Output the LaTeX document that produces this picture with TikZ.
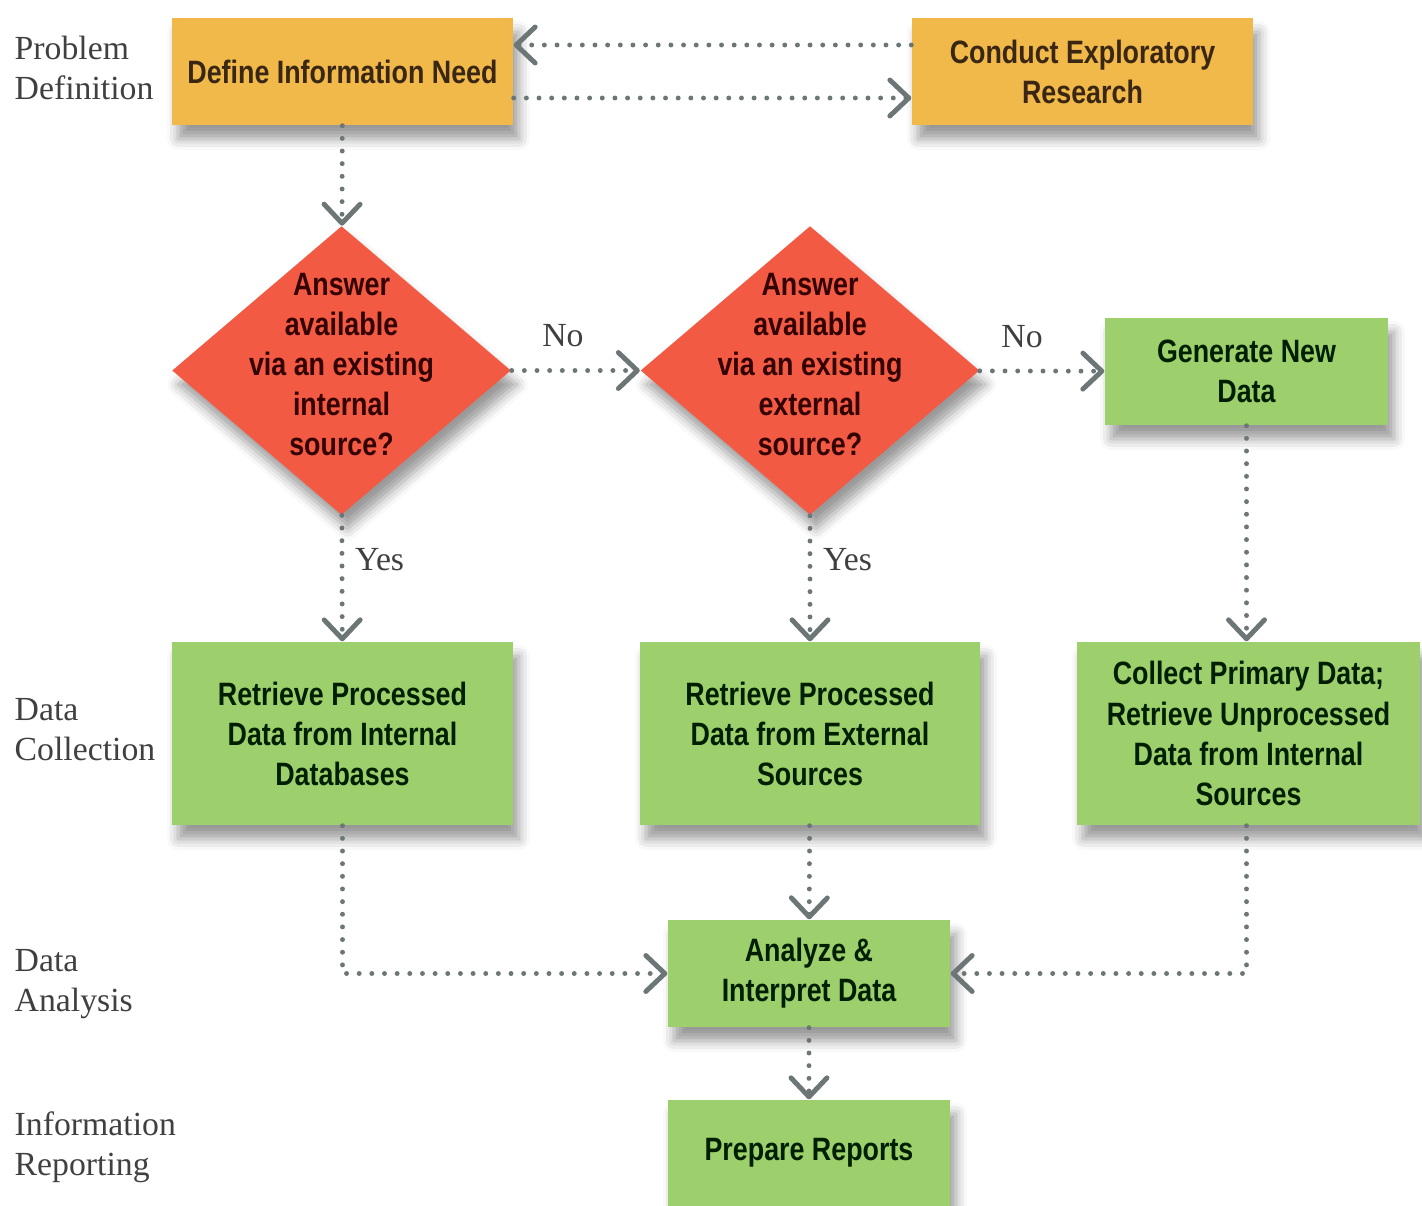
\documentclass[tikz,border=0pt]{standalone}
\usepackage{fontspec}
\setmainfont{Liberation Serif}
\newfontfamily\boxfont[FakeStretch=0.83]{Liberation Sans}
\usetikzlibrary{arrows.meta,shapes.geometric,shadows.blur}

\definecolor{stepamber}{RGB}{241,184,74}
\definecolor{stepred}{RGB}{243,90,68}
\definecolor{stepgreen}{RGB}{157,208,108}
\definecolor{flowgray}{RGB}{108,118,118}

\newcommand{\decisiontext}[1]{\raisebox{-2.6pt}{\smash{\makebox[0pt]{\begin{tabular}{@{}c@{}}#1\end{tabular}}}}}

\tikzset{
  stagelabel/.style={font=\fontsize{9.6}{11.4}\selectfont, text=black!75, align=left, anchor=west, inner sep=0pt},
  boxtext/.style={font=\boxfont\bfseries\fontsize{9.2}{11.4}\selectfont, align=center, inner sep=0pt,
    blur shadow={shadow xshift=0.6mm, shadow yshift=-1.4mm, shadow blur radius=1.1mm, shadow opacity=40}},
  ambertask/.style={boxtext, rectangle, fill=stepamber, text=brown!30!black},
  greentask/.style={boxtext, rectangle, fill=stepgreen, text=green!12!black},
  decision/.style={boxtext, diamond, fill=stepred, text=red!20!black, minimum width=3.39cm, minimum height=2.89cm},
  answer/.style={font=\fontsize{9.6}{11.4}\selectfont, text=black!75, inner sep=2pt},
  flow/.style={flowgray, line width=1.4pt, line cap=round, dash pattern=on 0pt off 3.6pt,
    -{Straight Barb[length=1.9mm, width=3.6mm, line width=1.4pt, round]}}
}

\begin{document}
\begin{tikzpicture}
\useasboundingbox (0,0) rectangle (14.22,-12.06);

% stages on the left
\foreach \y/\l in {0.68/Problem\\Definition, 7.30/Data\\Collection, 9.84/Data\\Analysis, 11.47/Information\\Reporting} {
  \node[stagelabel] at (0.14,-\y) {\l};
}

% problem definition
\node[ambertask, minimum width=3.41cm, minimum height=1.07cm] (define) at (3.425,-0.715) {Define Information Need};
\node[ambertask, minimum width=3.41cm, minimum height=1.07cm] (explore) at (10.825,-0.715) {Conduct Exploratory\\Research};

% decisions
\node[decision] (internal) at (3.415,-3.705) {\decisiontext{Answer\\available\\via an existing\\internal\\source?}};
\node[decision] (external) at (8.10,-3.705) {\decisiontext{Answer\\available\\via an existing\\external\\source?}};
\node[greentask, minimum width=2.83cm, minimum height=1.07cm] (newdata) at (12.465,-3.715) {Generate New\\Data};

% data collection
\node[greentask, minimum width=3.41cm, minimum height=1.83cm] (intdb) at (3.425,-7.335) {Retrieve Processed\\Data from Internal\\Databases};
\node[greentask, minimum width=3.40cm, minimum height=1.83cm] (extdb) at (8.10,-7.335) {Retrieve Processed\\Data from External\\Sources};
\node[greentask, minimum width=3.43cm, minimum height=1.83cm] (collect) at (12.485,-7.335) {Collect Primary Data;\\Retrieve Unprocessed\\Data from Internal\\Sources};

% analysis and reporting
\node[greentask, minimum width=2.82cm, minimum height=1.07cm] (analyze) at (8.09,-9.735) {Analyze \&\\Interpret Data};
\node[greentask, minimum width=2.82cm, minimum height=1.06cm] (report) at (8.09,-11.53) {Prepare Reports};

% connectors
\draw[flow] ([yshift=0.265cm]explore.west) -- ([yshift=0.265cm]define.east);
\draw[flow] ([yshift=-0.265cm]define.east) -- ([yshift=-0.265cm]explore.west);
\draw[flow] (define) -- (internal);
\draw[flow] (internal) -- node[answer, pos=0.4, above=4pt] {No} (external);
\draw[flow] (external) -- node[answer, pos=0.34, above=4pt] {No} (newdata);
\draw[flow] (internal) -- node[answer, pos=0.35, right=1pt] {Yes} (intdb);
\draw[flow] (external) -- node[answer, pos=0.35, right=1pt] {Yes} (extdb);
\draw[flow] (newdata) -- (newdata |- collect.north);
\draw[flow] (intdb) |- (analyze);
\draw[flow] (extdb) -- (analyze);
\draw[flow] (collect.south -| newdata) |- (analyze);
\draw[flow] (analyze) -- (report);
\end{tikzpicture}
\end{document}
